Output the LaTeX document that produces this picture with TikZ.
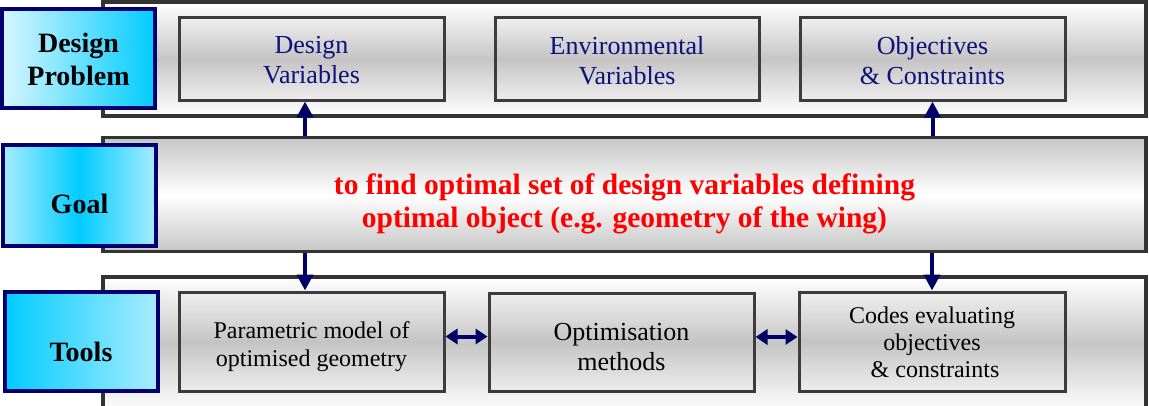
\documentclass[tikz,border=0pt]{standalone}
\usepackage{fontspec}
\newfontfamily\tnr{Liberation Serif}
\usetikzlibrary{arrows.meta}
\definecolor{navyline}{HTML}{000070}
\definecolor{navytext}{HTML}{10107A}
\definecolor{arrownavy}{HTML}{000066}
\definecolor{bandgray}{HTML}{333333}
\definecolor{boxgray}{HTML}{3C3C3C}
\definecolor{midgray}{HTML}{C4C4C4}
\definecolor{bandmid}{HTML}{C6C6C6}
\definecolor{cyanA}{HTML}{00CCFF}
\definecolor{cyanL}{HTML}{D8F6FF}
\definecolor{cyanM}{HTML}{A8ECFF}
\begin{document}
\begin{tikzpicture}[x=1pt,y=-1pt,
  band/.style={draw=bandgray, line width=3.5pt, inner sep=0pt, minimum width=1043pt},
  lightband/.style={band, top color=white, bottom color=white, middle color=bandmid},
  darkband/.style={band, top color=bandmid, bottom color=bandmid, middle color=white},
  innerbox/.style={draw=boxgray, line width=3pt, inner sep=0pt,
    top color=gray!12, bottom color=gray!14, middle color=midgray},
  labelbox/.style={draw=navyline, line width=4pt, inner sep=0pt, minimum width=153pt},
  labeltext/.style={align=center, inner sep=0pt, font=\tnr\fontsize{28}{33}\selectfont\bfseries},
  toptext/.style={align=center, inner sep=0pt, text=navytext, font=\tnr\fontsize{26}{30}\selectfont},
  bottext/.style={align=center, inner sep=0pt},
  arr/.style={draw=arrownavy, line width=4pt, -{Triangle[width=16pt,length=16pt]}},
  darr/.style={draw=arrownavy, line width=4pt, {Triangle[width=15pt,length=12pt]}-{Triangle[width=15pt,length=12pt]}}
]
\useasboundingbox (0,0) rectangle (1149,405);
\begin{scope}
\clip (0,0) rectangle (1149,405);
% bands
\node[lightband, minimum height=114pt] (topband) at (624.5,59) {};
\node[darkband, minimum height=114pt] (goalband) at (624.5,194.5) {};
\node[lightband, minimum height=134pt] (toolband) at (624.5,344) {};
\end{scope}
% top inner boxes
\node[innerbox, minimum width=265pt, minimum height=83pt] (dv) at (311.5,58.5) {};
\node[innerbox, minimum width=264pt, minimum height=83pt] (ev) at (627,58.5) {};
\node[innerbox, minimum width=265pt, minimum height=83pt] (oc) at (932.5,58.5) {};
\node[toptext] (dvt) at ([yshift=-2pt]dv.center) {Design\\Variables};
\node[toptext] (evt) at ([yshift=-2pt]ev.center) {Environmental\\Variables};
\node[toptext] (oct) at ([yshift=-2pt]oc.center) {Objectives\\\& Constraints};
% goal text
\node[text=red, align=center, inner sep=0pt, font=\tnr\fontsize{29.5}{33}\selectfont\bfseries] (goaltext) at ([yshift=-9pt]goalband.center) {to find optimal set of design variables defining\\optimal object (e.g. geometry of the wing)};
% bottom inner boxes
\node[innerbox, minimum width=265pt, minimum height=99pt] (pm) at (311.5,341.5) {};
\node[innerbox, minimum width=265pt, minimum height=98pt] (om) at (621.5,342) {};
\node[innerbox, minimum width=266pt, minimum height=99pt] (ce) at (932,341.5) {};
\node[bottext, font=\tnr\fontsize{24}{28}\selectfont] (pmt) at ([yshift=-5pt]pm.center) {Parametric model of\\optimised geometry};
\node[bottext, font=\tnr\fontsize{26}{30}\selectfont] (omt) at ([yshift=-5pt]om.center) {Optimisation\\methods};
\node[bottext, font=\tnr\fontsize{24}{27}\selectfont] (cet) at ([yshift=-1pt]ce.center) {Codes evaluating\\objectives\\\ \& constraints};
% label boxes
\node[labelbox, minimum height=99pt, left color=cyanL, right color=cyanA] (dp) at (78.5,58.5) {};
\node[labelbox, minimum height=101pt, left color=cyanM, right color=cyanM, middle color=cyanA] (goal) at (79.5,195.5) {};
\node[labelbox, minimum height=99pt, left color=cyanA, right color=cyanM] (tools) at (81,341.5) {};
\node[labeltext] (dpt) at ([yshift=-1pt]dp.center) {Design\\Problem};
\node[labeltext] (goalt) at ([yshift=-8pt]goal.center) {Goal};
\node[labeltext] (toolst) at ([yshift=-10pt]tools.center) {Tools};
% arrows
\draw[arr] ([xshift=-6.5pt]dv.south |- goalband.north) -- ([xshift=-6.5pt]dv.south);
\draw[arr] (oc.south |- goalband.north) -- (oc.south);
\draw[arr] ([xshift=-6.5pt]pm.north |- goalband.south) -- ([xshift=-6.5pt]pm.north);
\draw[arr] (ce.north |- goalband.south) -- (ce.north);
\draw[darr] ([yshift=5pt]pm.east) -- ([yshift=5pt]pm.east -| om.west);
\draw[darr] ([yshift=5pt]om.east) -- ([yshift=5pt]om.east -| ce.west);
\end{tikzpicture}
\end{document}
